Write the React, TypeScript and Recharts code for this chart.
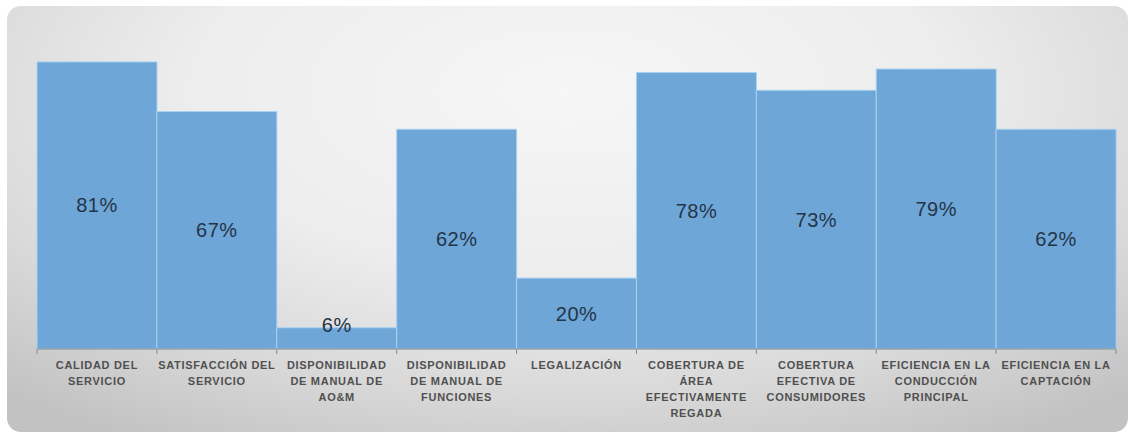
import { Bar, BarChart, LabelList, XAxis, YAxis } from "recharts"

const categories = [
  "CALIDAD DEL|SERVICIO",
  "SATISFACCIÓN DEL|SERVICIO",
  "DISPONIBILIDAD|DE MANUAL DE|AO&M",
  "DISPONIBILIDAD|DE MANUAL DE|FUNCIONES",
  "LEGALIZACIÓN",
  "COBERTURA DE|ÁREA|EFECTIVAMENTE|REGADA",
  "COBERTURA|EFECTIVA DE|CONSUMIDORES",
  "EFICIENCIA EN LA|CONDUCCIÓN|PRINCIPAL",
  "EFICIENCIA EN LA|CAPTACIÓN",
]
const values = [81, 67, 6, 62, 20, 78, 73, 79, 62]

const data = categories.map((name, i) => ({ name, value: values[i] }))

const W = 1133
const H = 433
const margin = { top: 30, right: 17, left: 37, bottom: 0 }
const band = (W - margin.left - margin.right) / categories.length

function CategoryTick(props: any) {
  const { x, y, payload, index } = props
  const lines = String(payload.value).split("|")
  const last = index === categories.length - 1
  return (
    <g>
      <line x1={x - band / 2} x2={x - band / 2} y1={y - 8} y2={y - 3} stroke="#8c8c8c" />
      {last && <line x1={x + band / 2} x2={x + band / 2} y1={y - 8} y2={y - 3} stroke="#8c8c8c" />}
      <text
        x={x}
        y={y}
        textAnchor="middle"
        fontFamily="'Liberation Sans', Arial, sans-serif"
        fontSize={11}
        fontWeight="bold"
        letterSpacing={0.7}
        fill="#505050"
      >
        {lines.map((l, i) => (
          <tspan key={i} x={x} dy={i === 0 ? 12 : 16}>
            {l}
          </tspan>
        ))}
      </text>
    </g>
  )
}

function ValueLabel(props: any) {
  const { x, y, width, height, value } = props
  const cy = height > 30 ? y + height / 2 : y - 3
  return (
    <text
      x={x + width / 2}
      y={cy}
      textAnchor="middle"
      dominantBaseline="central"
      fontFamily="'Liberation Sans', Arial, sans-serif"
      fontSize={20}
      letterSpacing={0.5}
      fill="#243447"
    >
      {value}%
    </text>
  )
}

export default function App() {
  return (
    <div style={{ position: "absolute", left: 0, top: 0, width: W, height: H, background: "#fff" }}>
      <div
        style={{
          position: "absolute",
          left: 7,
          top: 6,
          width: 1121,
          height: 426,
          borderRadius: 14,
          background:
            "radial-gradient(ellipse 75% 95% at 50% 20%, #f6f6f6 0%, #ededed 45%, #d9d9d9 75%, #c2c2c2 100%)",
        }}
      />
      <div style={{ position: "absolute", left: 0, top: 0 }}>
        <BarChart width={W} height={H} data={data} margin={margin} barCategoryGap={0}>
          <YAxis hide domain={[0, 90]} />
          <XAxis
            dataKey="name"
            interval={0}
            height={84}
            tickLine={false}
            axisLine={{ stroke: "#8c8c8c" }}
            tick={<CategoryTick />}
          />
          <Bar dataKey="value" fill="#6fa6d8" stroke="#a9d2f2" strokeWidth={1} isAnimationActive={false}>
            <LabelList dataKey="value" content={<ValueLabel />} />
          </Bar>
        </BarChart>
      </div>
    </div>
  )
}
